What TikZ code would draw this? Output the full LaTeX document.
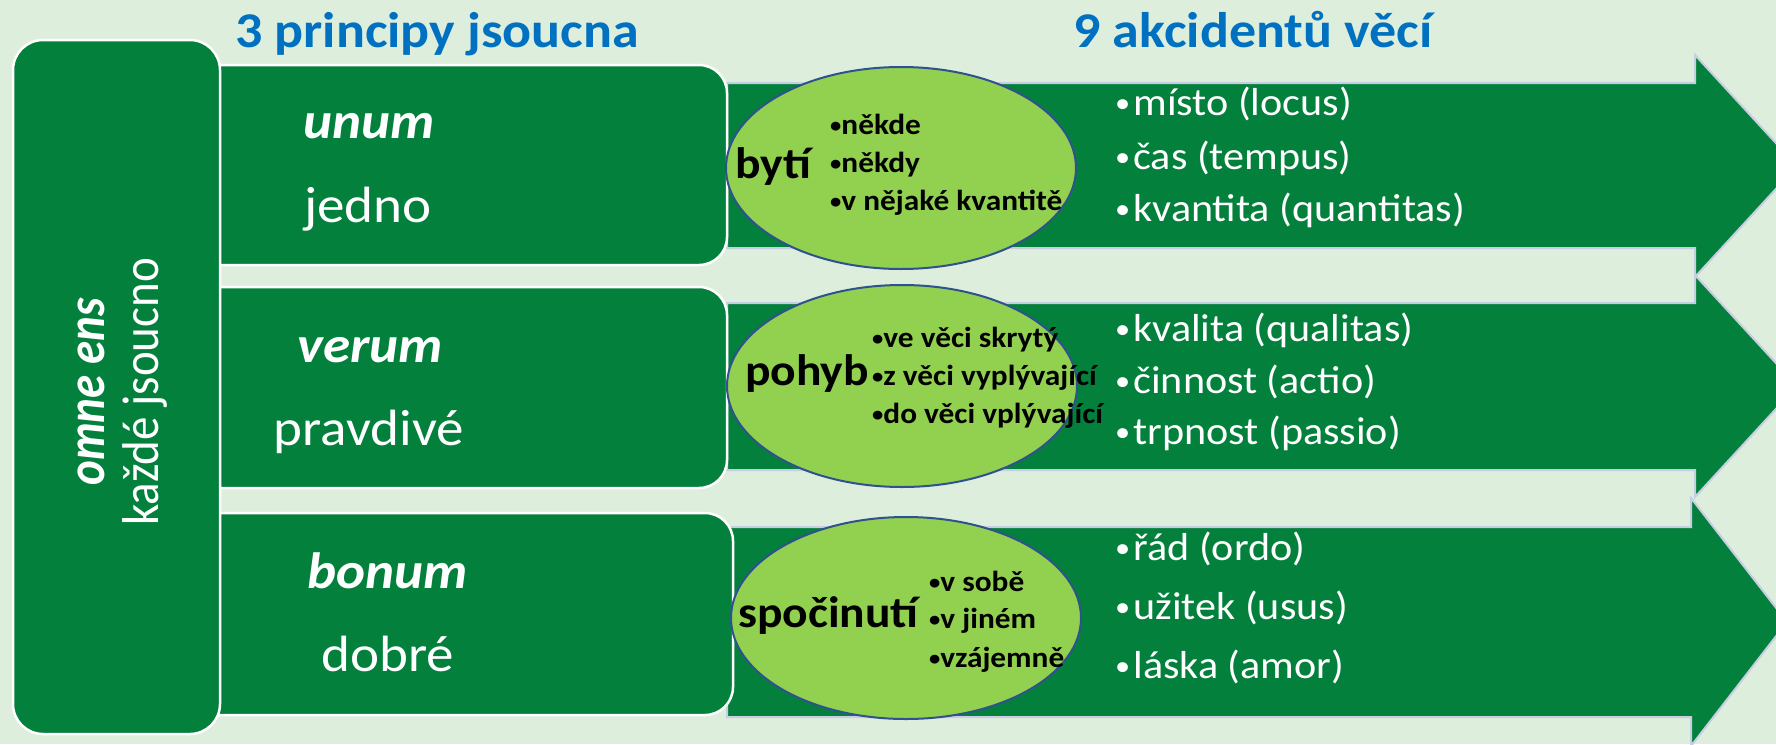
\documentclass[tikz,border=0pt]{standalone}
\usepackage{fontspec}
\usepackage{graphicx}
\setmainfont{Carlito}[FakeStretch=1.08]
\newfontfamily\uprightfont{Carlito}
\usetikzlibrary{shapes.geometric}

\definecolor{bg}{RGB}{221,238,220}
\definecolor{leaf}{RGB}{3,129,60}
\definecolor{lime}{RGB}{146,208,80}
\definecolor{ink}{RGB}{47,82,143}
\definecolor{titleblue}{RGB}{0,112,192}
\definecolor{rim}{RGB}{200,206,226}

\newcommand{\smalldot}{\raisebox{0.06em}{\scalebox{0.72}{•}}}

\tikzstyle{panel}=[rectangle,rounded corners=28pt,fill=leaf,draw=white,line width=2.5pt,inner sep=0pt]
\tikzstyle{blob}=[ellipse,fill=lime,draw=ink,line width=2pt,minimum width=350pt,minimum height=202pt,inner sep=0pt]
\tikzstyle{heading}=[font=\fontsize{50}{54}\selectfont\bfseries,text=titleblue,anchor=base,inner sep=0pt]
\tikzstyle{latin}=[font=\fontsize{51}{54}\selectfont\bfseries\itshape,text=white,anchor=base,inner sep=0pt]
\tikzstyle{czech}=[font=\fontsize{51}{54}\selectfont,text=white,anchor=base,inner sep=0pt]
\tikzstyle{upright}=[font=\uprightfont\fontsize{47}{50}\selectfont,text=white,rotate=90,anchor=base,inner sep=0pt]
\tikzstyle{kind}=[font=\fontsize{44}{48}\selectfont\bfseries,anchor=base west,inner sep=0pt]
\tikzstyle{sub}=[font=\fontsize{29}{32}\selectfont\bfseries,anchor=base west,inner sep=0pt]
\tikzstyle{accident}=[font=\fontsize{39}{44}\selectfont,text=white,anchor=base west,inner sep=0pt]
\tikzstyle{bigarrow}=[fill=leaf,draw=rim,line width=2pt]

\begin{document}
\begin{tikzpicture}[x=1pt,y=-1pt]
	\fill[bg] (0,0) rectangle (1776,744);
	\useasboundingbox (0,0) rectangle (1776,744);
	%Arrows
	\foreach \ya/\yb/\ha/\hb/\xb/\xt in {83/248/55/277/1695/1797, 303/470/275/497/1695/1797, 527/717/498/746/1691/1787}
		\draw[bigarrow] (727,\ya) -- (\xb,\ya) -- (\xb,\ha) -- (\xt,{(\ha+\hb)/2}) -- (\xb,\hb) -- (\xb,\yb) -- (727,\yb) -- cycle;
	%Rows
	\foreach \ya/\yb/\xr/\name in {65/265/727/unumbox, 287/488/727/verumbox, 513/715/733/bonumbox}
		\node[panel,minimum width=\xr-190,minimum height=\yb-\ya] (\name) at ({(190+\xr)/2},{(\ya+\yb)/2}) {};
	%Left
	\node[panel,rounded corners=30pt,minimum width=207pt,minimum height=694pt] (omne) at (116.5,387) {};
	\node[upright] (omneens) at (104,392) {\scalebox{1}[1.15]{\bfseries\itshape omne ens}};
	\node[upright] (kazde) at (158,392) {\scalebox{1}[1.1]{každé jsoucno}};
	%Ellipses
	\foreach \pos/\name in {{(901,168)/byti}, {(902,386)/pohyb}, {(906,618)/klid}}
		\node[blob] (\name) at \pos {};
	%Titles
	\node[heading] (principy) at (437,47) {3 principy jsoucna};
	\node[heading] (akcidenty) at (1253,47) {9 akcidentů věcí};
	%Principles
	\foreach \pos/\name in {{(369,138)/unum}, {(370,362)/verum}, {(388,588)/bonum}}
		\node[latin] (\name) at \pos {\name};
	\foreach \pos/\name/\txt in {{(368,222)/jedno/jedno}, {(369,445)/pravdive/pravdivé}, {(388,671)/dobre/dobré}}
		\node[czech] (\name) at \pos {\txt};
	%Ellipse texts
	\node[kind] (bytilabel) at (735,178) {bytí};
	\node[kind] (pohyblabel) at (745,385) {pohyb};
	\node[kind] (klidlabel) at (738,627) {spočinutí};
	\foreach \pos/\name/\txt in
		{{(830,134)/kde/někde}, {(830,172)/kdy/někdy}, {(830,210)/kolik/v nějaké kvantitě},
		 {(872,347)/skryty/ve věci skrytý}, {(872,385)/vyplyvajici/z věci vyplývající}, {(872,423)/vplyvajici/do věci vplývající},
		 {(929,591)/sobe/v sobě}, {(929,628)/jinem/v jiném}, {(929,667)/vzajemne/vzájemně}}
		\node[sub] (\name) at \pos {\smalldot\txt};
	%Accidents
	\foreach \pos/\name/\txt in
		{{(1115,115)/locus/místo (locus)}, {(1115,169)/tempus/čas (tempus)}, {(1115,221)/quantitas/kvantita (quantitas)},
		 {(1115,341)/qualitas/kvalita (qualitas)}, {(1115,393)/actio/činnost (actio)}, {(1115,444)/passio/trpnost (passio)},
		 {(1115,560)/ordo/řád (ordo)}, {(1115,619)/usus/užitek (usus)}, {(1115,678)/amor/láska (amor)}}
		\node[accident] (\name) at \pos {\smalldot\hspace{0.08em}\txt};
\end{tikzpicture}
\end{document}
